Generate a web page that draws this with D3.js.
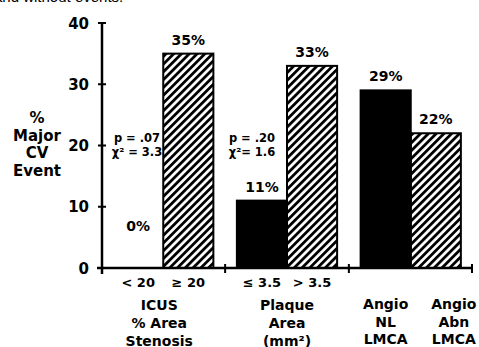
<!DOCTYPE html>
<html>
<head>
<meta charset="utf-8">
<script src="https://cdn.jsdelivr.net/npm/d3@7"></script>
<style>
  body { margin: 0; background: #fff; }
  svg { display: block; }
  text { font-family: "DejaVu Sans", Verdana, sans-serif; font-weight: bold; fill: #000; }
</style>
</head>
<body>
<svg id="chart" width="479" height="347"></svg>
<script>
// data
const groups = ['icus', 'plaque', 'angio'];
const groupLabels = [
  ['ICUS', '% Area', 'Stenosis'],
  ['Plaque', 'Area', '(mm\u00B2)'],
  []
];
const bars = [
  { group: 'icus', sub: 'a', label: '< 20', value: 0, fill: 'white' },
  { group: 'icus', sub: 'b', label: '\u2265 20', value: 35, fill: 'hatch' },
  { group: 'plaque', sub: 'a', label: '\u2264 3.5', value: 11, fill: 'black' },
  { group: 'plaque', sub: 'b', label: '> 3.5', value: 33, fill: 'hatch' },
  { group: 'angio', sub: 'a', label: '', value: 29, fill: 'black' },
  { group: 'angio', sub: 'b', label: '', value: 22, fill: 'hatch' }
];
const angioLabels = [['Angio', 'NL', 'LMCA'], ['Angio', 'Abn', 'LMCA']];
const stats = [['p = .07', '\u03C7\u00B2 = 3.3'], ['p = .20', '\u03C7\u00B2= 1.6']];
const yTicks = [0, 10, 20, 30, 40];
const yTitle = ['%', 'Major', 'CV', 'Event'];

const svg = d3.select('#chart');

const y = d3.scaleLinear().domain([0, 40]).range([268, 23]);
const x0 = d3.scaleBand().domain(groups).range([102, 472])
  .paddingInner(0.19).paddingOuter(0.09);
const x1 = d3.scaleBand().domain(['a', 'b']).range([0, x0.bandwidth()]);

// hatch pattern
const defs = svg.append('defs');
defs.append('pattern')
  .attr('id', 'hatch')
  .attr('patternUnits', 'userSpaceOnUse')
  .attr('width', 5.5)
  .attr('height', 5.5)
  .attr('patternTransform', 'rotate(45)')
  .append('rect')
  .attr('width', 2.8)
  .attr('height', 5.5)
  .attr('fill', '#000');

// caption cut at the top
svg.append('text')
  .attr('x', -6)
  .attr('y', 2)
  .style('font-family', '"Liberation Sans", Arial, sans-serif')
  .style('font-size', '15px')
  .style('font-weight', 'normal')
  .text('and without events.');

// bars
const barG = svg.append('g');
barG.selectAll('rect')
  .data(bars.filter(d => d.value > 0))
  .join('rect')
  .attr('x', d => x0(d.group) + x1(d.sub))
  .attr('y', d => y(d.value))
  .attr('width', x1.bandwidth())
  .attr('height', d => y(0) - y(d.value))
  .attr('fill', d => d.fill === 'hatch' ? 'url(#hatch)' : d.fill)
  .attr('stroke', '#000')
  .attr('stroke-width', 2);

// value labels
barG.selectAll('text.val')
  .data(bars)
  .join('text')
  .attr('class', 'val')
  .attr('x', d => x0(d.group) + x1(d.sub) + x1.bandwidth() / 2)
  .attr('y', d => d.value === 0 ? y(6) : y(d.value) - 9)
  .attr('text-anchor', 'middle')
  .style('font-size', '14px')
  .text(d => d.value + '%');

// axes
const axisG = svg.append('g').attr('stroke', '#000');
axisG.append('line')
  .attr('x1', 102).attr('x2', 102)
  .attr('y1', y(40)).attr('y2', y(0) + 6)
  .attr('stroke-width', 2.5);
axisG.append('line')
  .attr('x1', 97).attr('x2', 472)
  .attr('y1', y(0)).attr('y2', y(0))
  .attr('stroke-width', 2.5);
axisG.selectAll('line.ytick')
  .data(yTicks)
  .join('line')
  .attr('class', 'ytick')
  .attr('x1', 98).attr('x2', 106)
  .attr('y1', d => y(d)).attr('y2', d => y(d))
  .attr('stroke-width', 2);

// x ticks between groups and at end
const xTickPos = [
  (x0('icus') + x0.bandwidth() + x0('plaque')) / 2,
  (x0('plaque') + x0.bandwidth() + x0('angio')) / 2,
  472
];
axisG.selectAll('line.xtick')
  .data(xTickPos)
  .join('line')
  .attr('class', 'xtick')
  .attr('x1', d => d).attr('x2', d => d)
  .attr('y1', y(0) - 4).attr('y2', y(0) + 5)
  .attr('stroke-width', 2);

svg.selectAll('text.ytl')
  .data(yTicks)
  .join('text')
  .attr('class', 'ytl')
  .attr('x', 89)
  .attr('y', d => y(d) + 5.5)
  .attr('text-anchor', 'end')
  .style('font-size', '15px')
  .text(d => d);

// y title
svg.selectAll('text.ytitle')
  .data(yTitle)
  .join('text')
  .attr('class', 'ytitle')
  .attr('x', 37)
  .attr('y', (d, i) => 123 + i * 17.5)
  .attr('text-anchor', 'middle')
  .style('font-size', '15px')
  .text(d => d);

// bar category labels
svg.selectAll('text.cat')
  .data(bars.filter(d => d.label))
  .join('text')
  .attr('class', 'cat')
  .attr('x', d => x0(d.group) + x1(d.sub) + x1.bandwidth() / 2)
  .attr('y', 287)
  .attr('text-anchor', 'middle')
  .style('font-size', '13px')
  .text(d => d.label);

// group labels
groups.forEach((g, gi) => {
  svg.selectAll('text.grp' + gi)
    .data(groupLabels[gi])
    .join('text')
    .attr('x', x0(g) + x0.bandwidth() / 2 - (gi === 0 ? 4 : 0))
    .attr('y', (d, i) => 310 + i * 18)
    .attr('text-anchor', 'middle')
    .style('font-size', '14px')
    .text(d => d);
});

// angio labels under their own bars
angioLabels.forEach((lines, i) => {
  const sub = i === 0 ? 'a' : 'b';
  svg.selectAll('text.ang' + i)
    .data(lines)
    .join('text')
    .attr('x', x0('angio') + x1(sub) + x1.bandwidth() / 2 + (i === 0 ? 0 : 18))
    .attr('y', (d, j) => 309 + j * 17.5)
    .attr('text-anchor', 'middle')
    .style('font-size', '14px')
    .text(d => d);
});

// stats annotations
const statX = [137, 252];
stats.forEach((lines, i) => {
  svg.selectAll('text.st' + i)
    .data(lines)
    .join('text')
    .attr('x', statX[i])
    .attr('y', (d, j) => y(21.3) + 4 + j * 14)
    .attr('text-anchor', 'middle')
    .style('font-size', '11.5px')
    .text(d => d);
});
</script>
</body>
</html>
